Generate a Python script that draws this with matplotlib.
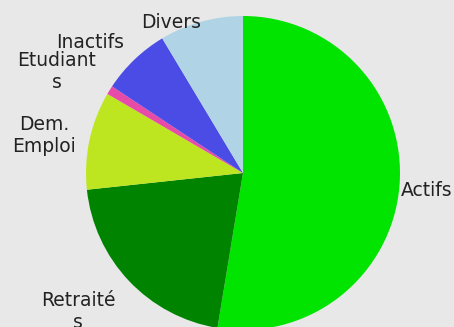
import matplotlib
matplotlib.use("Agg")
import matplotlib.pyplot as plt

# parts of the population, clockwise from 12 o'clock
labels = ["Actifs", "Retraité\ns", "Dem.\nEmploi", "Etudiant\ns", "Inactifs", "Divers"]
shares = [52.6, 20.7, 10.1, 0.9, 7.1, 8.6]
colors = ["#00e400", "#008400", "#bde620", "#e84aa8", "#4b4be6", "#b0d4e6"]

# where each label sits (pixels, y up) and how it is aligned
label_xy = [(401, 137), (78, 16), (44, 191), (57, 255), (124, 285), (201, 305)]
label_ha = ["left", "center", "center", "center", "right", "right"]

W, H = 454, 327
bg = "#e8e8e8"

fig = plt.figure(figsize=(W / 100, H / 100), dpi=100)
fig.patch.set_facecolor(bg)
ax = fig.add_axes([0, 0, 1, 1])
ax.set_facecolor(bg)

ax.pie(shares, colors=colors, startangle=90, counterclock=False,
       center=(243, 154), radius=157, wedgeprops=dict(linewidth=0))

for txt, (x, y), ha in zip(labels, label_xy, label_ha):
    ax.text(x, y, txt, ha=ha, va="center", fontsize=13.5,
            color="#222222", family="DejaVu Sans")

ax.set_xlim(0, W)
ax.set_ylim(0, H)
ax.set_aspect("equal")
ax.axis("off")

fig.savefig("out.png", dpi=100, facecolor=bg)
